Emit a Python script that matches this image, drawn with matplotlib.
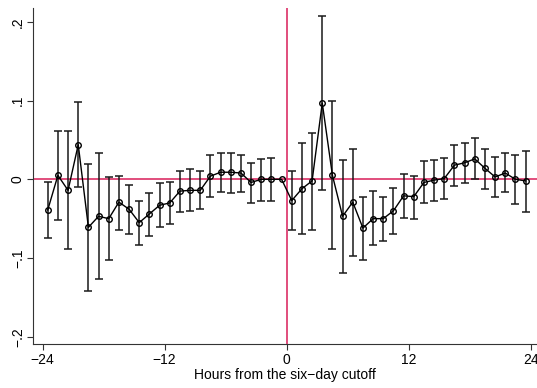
import matplotlib
matplotlib.use("Agg")
import matplotlib.pyplot as plt

# ------------------------------------------------- Data -------------------------------------------------

hours = [h + 0.5 for h in range(-24, 24)]

coef = [
    -0.039, 0.005, -0.014, 0.044, -0.061, -0.047, -0.050, -0.029,
    -0.038, -0.055, -0.044, -0.033, -0.030, -0.015, -0.014, -0.014,
    0.004, 0.009, 0.009, 0.008, -0.004, 0.000, 0.000, 0.000,
    -0.027, -0.012, -0.002, 0.097, 0.005, -0.047, -0.029, -0.062,
    -0.050, -0.050, -0.040, -0.021, -0.022, -0.004, -0.001, 0.001,
    0.018, 0.021, 0.026, 0.014, 0.003, 0.008, 0.000, -0.002,
]

ci_hi = [
    -0.004, 0.061, 0.061, 0.098, 0.019, 0.034, 0.003, 0.004,
    -0.007, -0.028, -0.017, -0.005, -0.003, 0.011, 0.013, 0.011,
    0.031, 0.033, 0.034, 0.031, 0.021, 0.026, 0.027, None,
    0.010, 0.046, 0.059, 0.208, 0.099, 0.024, 0.039, -0.022,
    -0.015, -0.022, -0.011, 0.007, 0.004, 0.023, 0.025, 0.027,
    0.044, 0.046, 0.052, 0.039, 0.028, 0.033, 0.031, 0.036,
]

ci_lo = [
    -0.074, -0.052, -0.089, -0.010, -0.142, -0.127, -0.103, -0.064,
    -0.070, -0.083, -0.072, -0.061, -0.057, -0.041, -0.040, -0.038,
    -0.022, -0.016, -0.017, -0.016, -0.030, -0.028, -0.028, None,
    -0.065, -0.070, -0.064, -0.014, -0.089, -0.119, -0.098, -0.103,
    -0.084, -0.079, -0.069, -0.049, -0.050, -0.030, -0.028, -0.025,
    -0.009, -0.005, 0.000, -0.012, -0.022, -0.016, -0.031, -0.041,
]

x_ticks = [-24, -12, 0, 12, 24]
y_ticks = [-0.2, -0.1, 0, 0.1, 0.2]
y_tick_labels = ["\u2212.2", "\u2212.1", "0", ".1", ".2"]
x_tick_labels = ["\u221224", "\u221212", "0", "12", "24"]

RED = "#dc2f66"

# ------------------------------------------------- Plot -------------------------------------------------

plt.rcParams.update({
    "font.family": ["Liberation Sans", "DejaVu Sans"],
    "font.size": 10,
})

fig = plt.figure(figsize=(5.37, 3.88), dpi=100)
ax = fig.add_axes([0.062, 0.1126, 0.938, 0.8661])

ax.axhline(0, color=RED, linewidth=1.2, zorder=1)
ax.axvline(0, color=RED, linewidth=1.2, zorder=1)

# confidence intervals (the base hour has none)
ci_x = [h for h, hi in zip(hours, ci_hi) if hi is not None]
ci_mid = [c for c, hi in zip(coef, ci_hi) if hi is not None]
ci_up = [hi - c for c, hi in zip(coef, ci_hi) if hi is not None]
ci_dn = [c - lo for c, lo in zip(coef, ci_lo) if lo is not None]

ax.errorbar(
    ci_x,
    ci_mid,
    yerr=[ci_dn, ci_up],
    fmt="none",
    ecolor="#1a1a1a",
    elinewidth=1.1,
    capsize=3,
    capthick=1.1,
    zorder=2,
)

ax.plot(
    hours,
    coef,
    color="black",
    linewidth=1.0,
    marker="o",
    markersize=4,
    markerfacecolor="none",
    markeredgecolor="black",
    markeredgewidth=1.0,
    zorder=3,
)

ax.set_xlim(-24.92, 24.62)
ax.set_ylim(-0.2097, 0.2174)

ax.set_xticks(x_ticks)
ax.set_xticklabels(x_tick_labels)
ax.set_yticks(y_ticks)
ax.set_yticklabels(y_tick_labels, rotation=90, va="center")

ax.tick_params(axis="both", length=4, width=0.8, color="#333333", pad=2)
ax.set_xlabel("Hours from the six\u2212day cutoff", labelpad=1)

for side in ["top", "right"]:
    ax.spines[side].set_visible(False)
for side in ["left", "bottom"]:
    ax.spines[side].set_linewidth(0.8)
    ax.spines[side].set_color("#333333")

fig.savefig("out.png", dpi=100)
